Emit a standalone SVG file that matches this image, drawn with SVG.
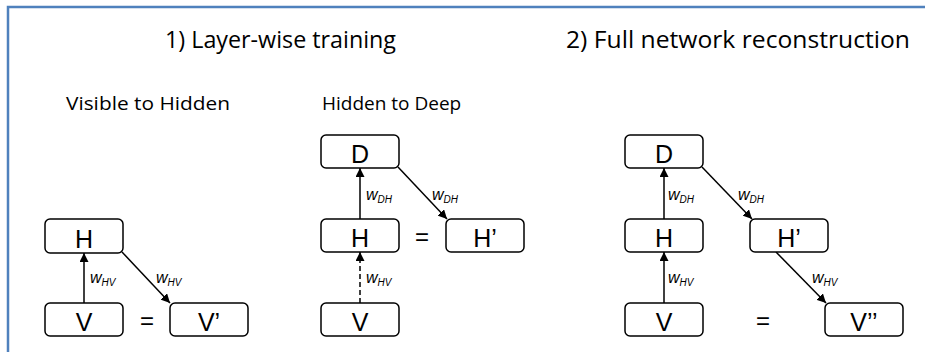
<svg xmlns="http://www.w3.org/2000/svg" width="925" height="352" viewBox="0 0 925 352">
  <style>
    .frame { fill: none; stroke: #4f81bd; stroke-width: 2.5; }
    .title { font-family: "Open Sans", "Liberation Sans", sans-serif; font-size: 23px; fill: #000; }
    .sub { font-family: "Open Sans", "Liberation Sans", sans-serif; font-size: 19px; fill: #000; }
    .box { fill: #fff; stroke: #000; stroke-width: 1.5; }
    .lbl { font-family: "Liberation Sans", Arial, sans-serif; font-size: 25px; fill: #000; text-anchor: middle; }
    .eq { font-family: "Liberation Sans", Arial, sans-serif; font-size: 24px; fill: #000; text-anchor: middle; }
    .w { font-family: "Liberation Sans", Arial, sans-serif; font-style: italic; font-size: 16px; fill: #000; }
    .ws { font-size: 10px; }
    .edge { stroke: #000; stroke-width: 1.5; fill: none; marker-end: url(#arrow); }
    .dash { stroke-dasharray: 5 3; }
  </style>
  <defs>
    <marker id="arrow" viewBox="0 0 10 10" refX="10" refY="5" markerWidth="9" markerHeight="9" markerUnits="userSpaceOnUse" orient="auto">
      <path d="M0,0 L10,5 L0,10 z" fill="#000"/>
    </marker>
  </defs>

  <rect width="925" height="352" fill="#fff"/>
  <path class="frame" d="M8,352 L8,7 L925,7"/>

  <text class="title" x="165" y="48" textLength="231" lengthAdjust="spacingAndGlyphs">1) Layer-wise training</text>
  <text class="title" x="566" y="48" textLength="344" lengthAdjust="spacingAndGlyphs">2)  Full network reconstruction</text>
  <text class="sub" x="66" y="110" textLength="164" lengthAdjust="spacingAndGlyphs">Visible to Hidden</text>
  <text class="sub" x="322" y="110">Hidden to Deep</text>

  <!-- connectors -->
  <g id="connectors">
    <line class="edge" x1="84" y1="303" x2="84" y2="253"/>
    <line class="edge" x1="122" y1="252" x2="170" y2="303"/>
    <line class="edge" x1="360" y1="219" x2="360" y2="168"/>
    <line class="edge dash" x1="360" y1="303" x2="360" y2="252"/>
    <line class="edge" x1="398" y1="167" x2="447" y2="219"/>
    <line class="edge" x1="664" y1="219" x2="664" y2="168"/>
    <line class="edge" x1="664" y1="303" x2="664" y2="252"/>
    <line class="edge" x1="702" y1="167" x2="752" y2="219"/>
    <line class="edge" x1="776" y1="252" x2="826" y2="303"/>

    <text class="w" x="90" y="283">w<tspan class="ws" dy="3">HV</tspan></text>
    <text class="w" x="156" y="283">w<tspan class="ws" dy="3">HV</tspan></text>
    <text class="w" x="366" y="200">w<tspan class="ws" dy="3">DH</tspan></text>
    <text class="w" x="432" y="200">w<tspan class="ws" dy="3">DH</tspan></text>
    <text class="w" x="366" y="283">w<tspan class="ws" dy="3">HV</tspan></text>
    <text class="w" x="668" y="200">w<tspan class="ws" dy="3">DH</tspan></text>
    <text class="w" x="738" y="200">w<tspan class="ws" dy="3">DH</tspan></text>
    <text class="w" x="668" y="283">w<tspan class="ws" dy="3">HV</tspan></text>
    <text class="w" x="812" y="283">w<tspan class="ws" dy="3">HV</tspan></text>
  </g>

  <!-- panel 1: visible to hidden -->
  <g id="p1-H"><rect class="box" x="45" y="219" width="78" height="34" rx="5"/><text class="lbl" x="84" y="248">H</text></g>
  <g id="p1-V"><rect class="box" x="45" y="303" width="78" height="33" rx="5"/><text class="lbl" x="84" y="331">V</text></g>
  <g id="p1-V1"><rect class="box" x="170" y="303" width="78" height="33" rx="5"/><text class="lbl" x="209" y="331">V’</text></g>
  <text class="eq" x="147" y="329">=</text>

  <!-- panel 2: hidden to deep -->
  <g id="p2-D"><rect class="box" x="321" y="135" width="78" height="33" rx="5"/><text class="lbl" x="360" y="163">D</text></g>
  <g id="p2-H"><rect class="box" x="321" y="219" width="78" height="33" rx="5"/><text class="lbl" x="360" y="247">H</text></g>
  <g id="p2-H1"><rect class="box" x="446" y="219" width="78" height="33" rx="5"/><text class="lbl" x="485" y="247">H’</text></g>
  <g id="p2-V"><rect class="box" x="321" y="303" width="78" height="33" rx="5"/><text class="lbl" x="360" y="331">V</text></g>
  <text class="eq" x="422" y="245">=</text>

  <!-- panel 3: full reconstruction -->
  <g id="p3-D"><rect class="box" x="625" y="135" width="78" height="33" rx="5"/><text class="lbl" x="664" y="163">D</text></g>
  <g id="p3-H"><rect class="box" x="625" y="219" width="78" height="33" rx="5"/><text class="lbl" x="664" y="247">H</text></g>
  <g id="p3-V"><rect class="box" x="625" y="303" width="78" height="33" rx="5"/><text class="lbl" x="664" y="331">V</text></g>
  <g id="p3-H1"><rect class="box" x="750" y="219" width="78" height="33" rx="5"/><text class="lbl" x="789" y="247">H’</text></g>
  <g id="p3-V2"><rect class="box" x="825" y="303" width="78" height="33" rx="5"/><text class="lbl" x="864" y="331">V’’</text></g>
  <text class="eq" x="763" y="329">=</text>
</svg>
